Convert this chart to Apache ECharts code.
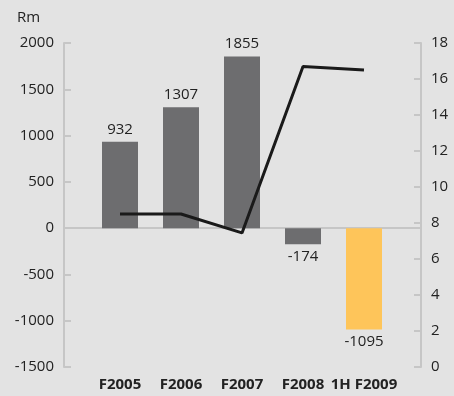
<!DOCTYPE html>
<html>
<head>
<meta charset="utf-8">
<script src="https://cdn.jsdelivr.net/npm/echarts@6/dist/echarts.min.js"></script>
<style>
html,body{margin:0;padding:0;background:#e3e3e3;}
#chart{width:454px;height:396px;}
</style>
</head>
<body>
<div id="chart"></div>
<script>
const categories = ['F2005', 'F2006', 'F2007', 'F2008', '1H F2009'];
const profitValues = [932, 1307, 1855, -174, -1095];
const lineValues = [8.5, 8.5, 7.45, 16.7, 16.5];
const leftTicks = { min: -1500, max: 2000, interval: 500 };
const rightTicks = { min: 0, max: 18, interval: 2 };
const unitLabel = 'Rm';

const font = '"Open Sans", sans-serif';
const axisColor = '#c6c6c6';
const textColor = '#222';

const chart = echarts.init(document.getElementById('chart'));
chart.setOption({
  backgroundColor: '#e3e3e3',
  animation: false,
  textStyle: { fontFamily: font },
  title: {
    text: unitLabel, left: 12, top: 5,
    textStyle: { fontFamily: font, fontSize: 15, fontWeight: 'normal', color: textColor }
  },
  grid: [
    { left: 64, right: 33, top: 43, bottom: 29 },
    { left: 89.5, right: 59.5, top: 43, bottom: 29 }
  ],
  xAxis: [
    {
      type: 'category', gridIndex: 0, data: categories,
      axisLine: { onZero: true, lineStyle: { color: axisColor, width: 2 } },
      axisTick: { show: false }, axisLabel: { show: false }, splitLine: { show: false }
    },
    {
      type: 'category', gridIndex: 1, data: categories,
      axisLine: { show: false, onZero: false }, axisTick: { show: false },
      axisLabel: { fontFamily: font, fontSize: 15, fontWeight: 'bold', color: textColor, margin: 10, interval: 0 }
    }
  ],
  yAxis: [
    {
      type: 'value', gridIndex: 0, position: 'left',
      min: leftTicks.min, max: leftTicks.max, interval: leftTicks.interval,
      axisLine: { show: true, lineStyle: { color: axisColor, width: 2 } },
      axisTick: { show: true, inside: true, length: 7, lineStyle: { color: axisColor, width: 2 } },
      axisLabel: { fontFamily: font, fontSize: 15, color: textColor, margin: 10, formatter: v => String(v) },
      splitLine: { show: false }
    },
    {
      type: 'value', gridIndex: 0, position: 'right',
      min: rightTicks.min, max: rightTicks.max, interval: rightTicks.interval,
      axisLine: { show: true, lineStyle: { color: axisColor, width: 2 } },
      axisTick: { show: true, inside: true, length: 7, lineStyle: { color: axisColor, width: 2 } },
      axisLabel: { fontFamily: font, fontSize: 15, color: textColor, margin: 10, formatter: v => String(v) },
      splitLine: { show: false }
    },
    {
      type: 'value', gridIndex: 1, min: leftTicks.min, max: leftTicks.max,
      show: false, splitLine: { show: false }
    },
    {
      type: 'value', gridIndex: 1, min: rightTicks.min, max: rightTicks.max,
      show: false, splitLine: { show: false }
    }
  ],
  series: [
    {
      type: 'bar', xAxisIndex: 1, yAxisIndex: 2, barWidth: 36,
      data: profitValues.map((v, i) => ({
        value: v,
        itemStyle: { color: i === profitValues.length - 1 ? '#fec55a' : '#6d6d6f' },
        label: { show: true, position: v >= 0 ? 'top' : 'bottom', distance: 5,
          fontFamily: font, fontSize: 15, color: textColor, formatter: p => String(p.value) }
      })),
      z: 2
    },
    {
      type: 'line', xAxisIndex: 1, yAxisIndex: 3, data: lineValues,
      symbol: 'none', lineStyle: { color: '#1a1a1a', width: 3 }, z: 3
    }
  ]
});
</script>
</body>
</html>
